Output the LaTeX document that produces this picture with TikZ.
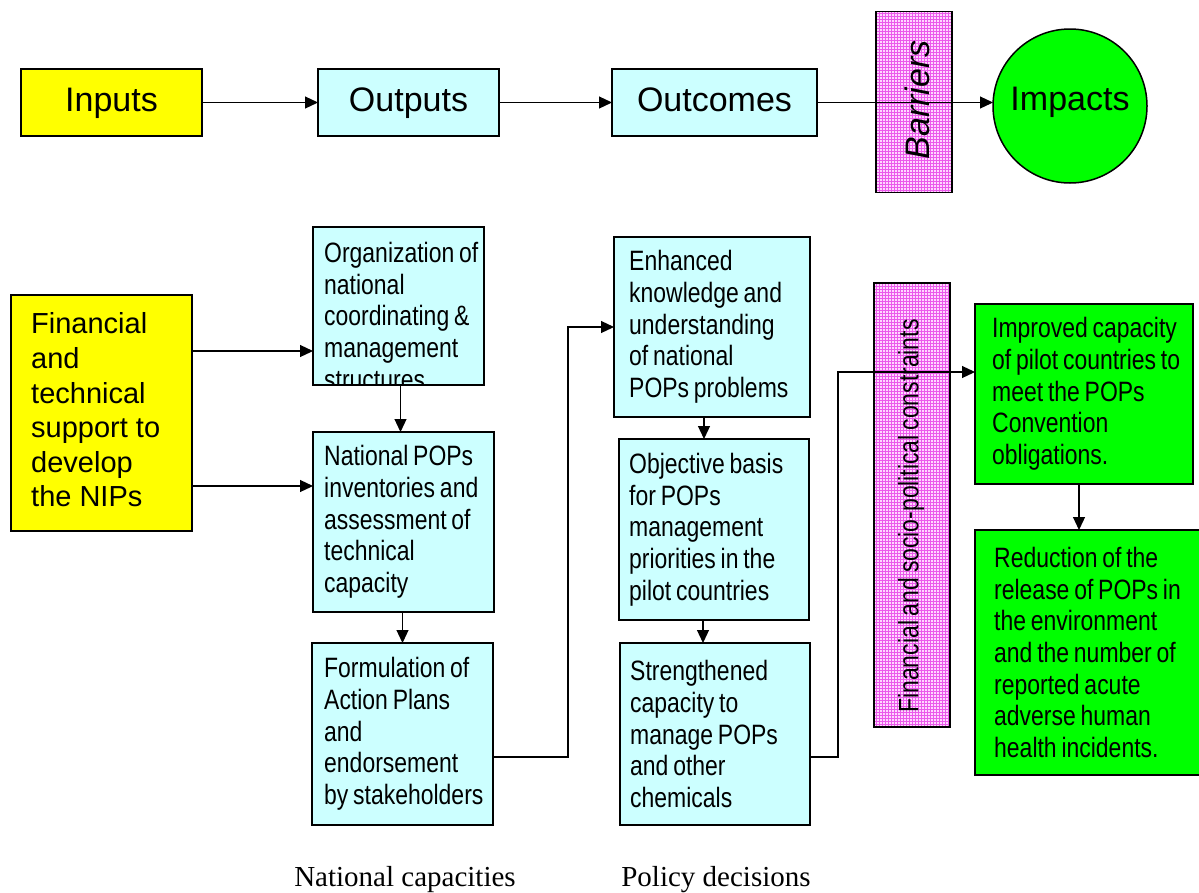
\documentclass[tikz,border=0pt]{standalone}
\usepackage{fontspec}
\setmainfont{Liberation Sans}
\newfontfamily\narrowsans[FakeStretch=0.82, WordSpace=0.75]{Liberation Sans}
\newfontfamily\serifcap{Liberation Serif}
\usetikzlibrary{arrows.meta,patterns,calc}

\definecolor{inyellow}{RGB}{255,255,0}
\definecolor{outcyan}{RGB}{204,255,255}
\definecolor{impgreen}{RGB}{0,255,0}
\definecolor{barpink}{RGB}{255,215,255}
\definecolor{barline}{RGB}{235,90,235}

\tikzset{
  box/.style={draw=black, line width=1.5pt, rectangle, inner sep=0pt, outer sep=0pt},
  headbox/.style={box, font=\fontsize{34}{40}\selectfont, text height=25pt, text depth=7pt},
  boxtext/.style={anchor=west, inner sep=0pt, align=left, font=\narrowsans\fontsize{28}{31.7}\selectfont},
  pinkbox/.style={draw=black, line width=1.5pt, rectangle, inner sep=0pt, outer sep=0pt,
    preaction={fill=barpink}, pattern=grid, pattern color=barline},
  arr/.style={line width=1.2pt, -{Triangle[length=13pt,width=12pt]}},
  caption/.style={font=\serifcap\fontsize{29}{34}\selectfont, anchor=base},
}

\begin{document}
\begin{tikzpicture}[x=1pt, y=-1pt]
\useasboundingbox (0,0) rectangle (1199,892);

% ---------- top row: results chain ----------
\node[headbox, fill=inyellow, minimum width=181, minimum height=67] (inp) at (111.5,102.5) {Inputs};
\node[headbox, fill=outcyan, minimum width=181, minimum height=67] (outp) at (408.5,102.5) {Outputs};
\node[headbox, fill=outcyan, minimum width=205, minimum height=67] (outc) at (714.5,102.5) {Outcomes};
\node[pinkbox, minimum width=76, minimum height=181] (bar) at (914,102) {};
\node[rotate=90, inner sep=0pt, font=\itshape\fontsize{34}{40}\selectfont] (bartext) at (917,100) {Barriers};
\node[draw=black, line width=1.5pt, circle, fill=impgreen, minimum size=154, inner sep=0pt, outer sep=0pt,
      font=\fontsize{34}{40}\selectfont, text height=25pt, text depth=17pt] (imp) at (1070,106) {Impacts};

\draw[arr] (inp.east) -- (outp.west);
\draw[arr] (outp.east) -- (outc.west);
\draw[arr] (outc.east) -- (outc.east -| imp.west);

% ---------- lower part: project logic ----------
\node[box, fill=inyellow, minimum width=181, minimum height=236] (fin) at (101.5,413) {};
\node[anchor=west, inner sep=0pt, align=left, font=\fontsize{29}{34.6}\selectfont] (fintext)
  at ([xshift=20pt,yshift=3pt]fin.west)
  {Financial\\and\\technical\\support to\\develop\\the NIPs};

% national capacities column
\node[box, fill=outcyan, minimum width=171, minimum height=158] (org) at (398.5,306) {};
\begin{scope}
  \clip (org.north west) rectangle (org.south east);
  \node[boxtext, anchor=north west] (orgtext)
    at ($(org.north west)+(11,15)$)
    {Organization of\\national\\coordinating \&\\management\\structures};
\end{scope}
\draw[line width=1.5pt] (org.north west) rectangle (org.south east);

\node[box, fill=outcyan, minimum width=181, minimum height=180] (natl) at (403.5,522) {};
\node[boxtext] (natltext) at ([xshift=11pt]natl.west)
  {National POPs\\inventories and\\assessment of\\technical\\capacity};
\node[box, fill=outcyan, minimum width=181, minimum height=182] (form) at (402.5,734) {};
\node[boxtext] (formtext) at ([xshift=12pt]form.west)
  {Formulation of\\Action Plans\\and\\endorsement\\by stakeholders};

% policy decisions column
\node[box, fill=outcyan, minimum width=196, minimum height=180] (enh) at (712,327) {};
\node[boxtext] (enhtext) at ([xshift=15pt]enh.west)
  {Enhanced\\knowledge and\\understanding\\of national\\POPs problems};
\node[box, fill=outcyan, minimum width=190, minimum height=181] (obj) at (714,529.5) {};
\node[boxtext] (objtext) at ([xshift=10pt]obj.west)
  {Objective basis\\for POPs\\management\\priorities in the\\pilot countries};
\node[box, fill=outcyan, minimum width=190, minimum height=182] (str) at (715,734) {};
\node[boxtext] (strtext) at ([xshift=10pt]str.west)
  {Strengthened\\capacity to\\manage POPs\\and other\\chemicals};

% constraints
\node[pinkbox, minimum width=76, minimum height=444] (cons) at (912,505) {};
\node[rotate=90, inner sep=0pt, font=\narrowsans\fontsize{28}{32}\selectfont] (constext) at (911,516)
  {Financial and socio-political constraints};

% impacts column
\node[box, fill=impgreen, minimum width=218, minimum height=180] (impr) at (1084,394) {};
\node[boxtext] (imprtext) at ([xshift=17pt]impr.west)
  {Improved capacity\\of pilot countries to\\meet the POPs\\Convention\\obligations.};
\node[box, fill=impgreen, minimum width=230, minimum height=245] (red) at (1090,652.5) {};
\node[boxtext] (redtext) at ([xshift=19pt]red.west)
  {Reduction of the\\release of POPs in\\the environment\\and the number of\\reported acute\\adverse human\\health incidents.};

% connectors
\draw[arr] ([yshift=62pt]fin.east) coordinate (f1) -- (f1 -| org.west);
\draw[arr] ([yshift=-73pt]fin.east) coordinate (f2) -- (f2 -| natl.west);
\draw[arr] ([xshift=2pt]org.south) -- ([xshift=2pt]org.south |- natl.north);
\draw[arr] ([xshift=-1pt]natl.south) -- ([xshift=-1pt]natl.south |- form.north);
\draw[arr] ([yshift=-23pt]form.east) -- ++(75,0) |- (enh.west);
\draw[arr] ([xshift=-8pt]enh.south) -- ([xshift=-8pt]enh.south |- obj.north);
\draw[arr] ([xshift=-11pt]obj.south) -- ([xshift=-11pt]obj.south |- str.north);
\draw[arr] ([yshift=-23pt]str.east) -- ++(28,0) |- ([yshift=22pt]impr.west);
\draw[arr] ([xshift=-5pt]impr.south) -- ([xshift=-5pt]impr.south |- red.north);

% column captions
\node[caption] (natcap) at (405,886) {National capacities};
\node[caption] (polcap) at (716,886) {Policy decisions};
\end{tikzpicture}
\end{document}
